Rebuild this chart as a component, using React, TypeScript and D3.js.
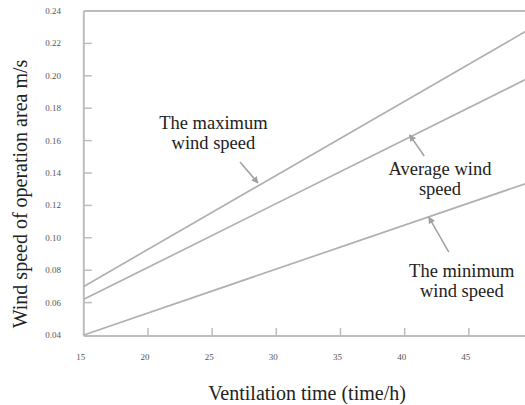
import React from "react";
import * as d3 from "d3";

const xTicks = [15, 20, 25, 30, 35, 40, 45, 50];
const yTicks = [0.04, 0.06, 0.08, 0.1, 0.12, 0.14, 0.16, 0.18, 0.2, 0.22, 0.24];

const maxSeries: [number, number][] = [[15, 0.07], [50, 0.23]];
const avgSeries: [number, number][] = [[15, 0.062], [50, 0.2]];
const minSeries: [number, number][] = [[15, 0.04], [50, 0.135]];

const annotations = [
  { lines: ["The maximum", "wind speed"], x: 25.1, y: 0.1672, from: [27.17, 0.1468], to: [28.57, 0.1338] },
  { lines: ["Average wind", "speed"], x: 42.75, y: 0.1388, from: [41.52, 0.1505], to: [40.39, 0.1635] },
  { lines: ["The minimum", "wind speed"], x: 44.45, y: 0.0758, from: [43.44, 0.0912], to: [41.88, 0.1128] },
];

const W = 525;
const H = 405;
const FONT = "Liberation Serif";

export default function App() {
  const x = d3.scaleLinear().domain([15, 50]).range([83.8, 533]);
  const y = d3.scaleLinear().domain([0.04, 0.24]).range([335, 11]);
  const line = d3
    .line<[number, number]>()
    .x((d) => x(d[0]))
    .y((d) => y(d[1]));
  const axisColor = "#bdbdbd";
  const lineColor = "#b0b0b0";
  const ts = { fontFamily: FONT };

  return (
    <svg width={W} height={H} style={{ position: "absolute", left: 0, top: 0, background: "#fff" }}>
      <defs>
        <marker id="arr" viewBox="0 0 10 10" refX="9" refY="5" markerWidth="7" markerHeight="7" orient="auto" markerUnits="userSpaceOnUse">
          <path d="M0,0 L10,5 L0,10 z" fill="#a0a0a0" />
        </marker>
      </defs>
      <rect x={0} y={0} width={W} height={H} fill="#fff" />
      <line x1={x(15)} x2={W} y1={y(0.24)} y2={y(0.24)} stroke={axisColor} strokeWidth={2} />
      <line x1={x(15)} x2={x(15)} y1={y(0.24)} y2={y(0.04) + 1} stroke={axisColor} strokeWidth={2} />
      <line x1={x(15)} x2={W} y1={y(0.04) + 1} y2={y(0.04) + 1} stroke={axisColor} strokeWidth={2} />
      {yTicks.slice(1, -1).map((t) => (
        <line key={"yt" + t} x1={x(15)} x2={x(15) + 8} y1={y(t)} y2={y(t)} stroke={axisColor} strokeWidth={1.5} />
      ))}
      {yTicks.map((t) => (
        <text key={"yl" + t} x={53} y={y(t) + 3} fontSize={9} fill="#555" textAnchor="middle" style={ts}>
          {t.toFixed(2)}
        </text>
      ))}
      {xTicks.slice(1).map((t) => (
        <line key={"xt" + t} x1={x(t)} x2={x(t)} y1={y(0.04) + 1} y2={y(0.04) - 7} stroke={axisColor} strokeWidth={1.5} />
      ))}
      {xTicks.map((t) => (
        <text key={"xl" + t} x={x(t) - 3} y={360} fontSize={9} fill="#555" textAnchor="middle" style={ts}>
          {t}
        </text>
      ))}
      {[maxSeries, avgSeries, minSeries].map((s, i) => (
        <path key={"s" + i} d={line(s) || ""} fill="none" stroke={lineColor} strokeWidth={1.7} />
      ))}
      {annotations.map((a, i) => (
        <g key={"a" + i}>
          {a.lines.map((l, j) => (
            <text key={j} x={x(a.x)} y={y(a.y) + j * 20} fontSize={18.5} fill="#222" textAnchor="middle" style={ts}>
              {l}
            </text>
          ))}
          <line
            x1={x(a.from[0])}
            y1={y(a.from[1])}
            x2={x(a.to[0])}
            y2={y(a.to[1])}
            stroke="#a0a0a0"
            strokeWidth={1.5}
            markerEnd="url(#arr)"
          />
        </g>
      ))}
      <text x={307} y={400} fontSize={20} fill="#222" textAnchor="middle" style={ts}>
        Ventilation time (time/h)
      </text>
      <text transform="translate(27,194) rotate(-90)" fontSize={20} fill="#222" textAnchor="middle" style={ts}>
        Wind speed of operation area m/s
      </text>
    </svg>
  );
}
